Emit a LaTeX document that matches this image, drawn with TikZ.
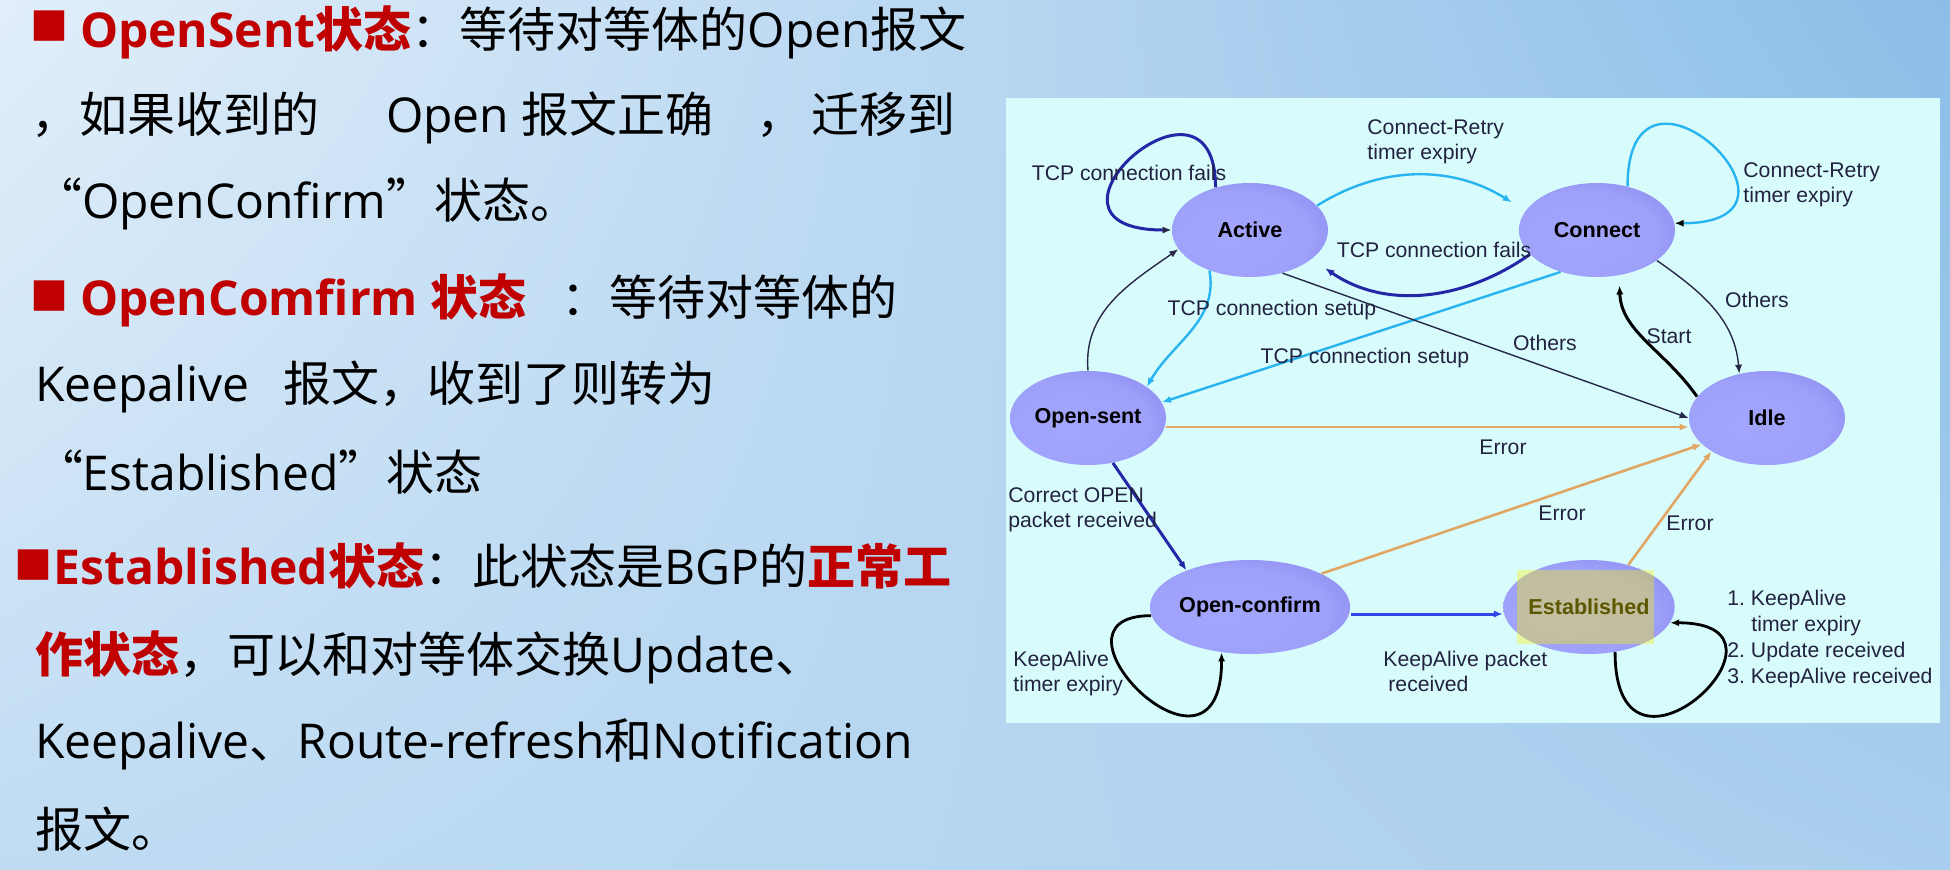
\documentclass[tikz,border=0pt]{standalone}
\usepackage{fontspec}
\setmainfont{Open Sans}
\newfontfamily\zh{Noto Sans CJK SC}
\newfontfamily\arial{Liberation Sans}
\usetikzlibrary{shapes.geometric,arrows.meta,shadings}

\definecolor{bgTL}{RGB}{226,239,250}
\definecolor{bgTR}{RGB}{140,190,232}
\definecolor{bgBL}{RGB}{192,220,243}
\definecolor{bgBR}{RGB}{170,207,238}
\definecolor{bgpred}{RGB}{192,0,0}
\definecolor{panelcol}{RGB}{216,252,252}
\definecolor{lblcol}{RGB}{34,34,64}
\definecolor{dkblue}{RGB}{36,38,168}
\definecolor{ltblue}{RGB}{40,180,240}
\definecolor{navyline}{RGB}{40,40,72}
\definecolor{orangeline}{RGB}{226,166,100}
\definecolor{midblue}{RGB}{50,70,230}

% soft 3D look of the state bubbles: lighter lower-left, darker upper-right rim
\pgfdeclareradialshading{stateball}{\pgfpoint{-8bp}{-6bp}}{%
  rgb(0bp)=(0.64,0.65,0.99);
  rgb(24bp)=(0.62,0.63,0.98);
  rgb(34bp)=(0.56,0.55,0.94);
  rgb(44bp)=(0.46,0.42,0.85);
  rgb(60bp)=(0.38,0.33,0.76)}

\tikzset{
  bodytxt/.style={anchor=base west, inner sep=0pt, outer sep=0pt,
    font=\fontsize{24}{28}\selectfont},
  bullet/.style={anchor=center, inner sep=0pt, outer sep=0pt, text=bgpred,
    font=\zh\fontsize{19}{20}\selectfont},
  stnode/.style={ellipse, minimum width=78pt, minimum height=47pt,
    inner sep=0pt, shade, shading=stateball,
    font=\arial\bfseries\fontsize{10.8}{13}\selectfont, text=black},
  lbl/.style={font=\arial\fontsize{10.6}{12.5}\selectfont, text=lblcol,
    inner sep=0pt, align=left},
  tip/.style={-{Latex[length=4.5pt,width=3.6pt]}},
}

\begin{document}
\begin{tikzpicture}[x=0.5pt,y=-0.5pt]
\useasboundingbox (0,0) rectangle (1950,869);
\shade[upper left=bgTL,upper right=bgTR,lower left=bgBL,lower right=bgBR]
  (0,0) rectangle (1950,869);

% ---------------- explanatory text ----------------
\node[bullet] (b1) at (50,26.5) {■};
\node[bodytxt] (t1) at (80,47) {{\bfseries\color{bgpred}OpenSent{\zh 状态}}{\zh ：等待对等体的}Open{\zh 报文}};
\node[bodytxt] (t2a) at (32,132) {\zh ，如果收到的};
\node[bodytxt] (t2b) at (386,132) {Open {\zh 报文正确}};
\node[bodytxt] (t2c) at (756,132) {\zh ，};
\node[bodytxt] (t2d) at (811,132) {\zh 迁移到};
\node[bodytxt] (t3) at (34,218) {{\zh “}OpenConfirm{\zh ”状态。}};
\node[bullet] (b2) at (50,296.5) {■};
\node[bodytxt] (t4a) at (80,315) {\bfseries\color{bgpred}OpenComfirm {\zh 状态}};
\node[bodytxt] (t4b) at (561,315) {\zh ：等待对等体的};
\node[bodytxt] (t5a) at (35,401) {Keepalive};
\node[bodytxt] (t5b) at (283,401) {\zh 报文，收到了则转为};
\node[bodytxt] (t6) at (35,490) {{\zh “}Established{\zh ”状态}};
\node[bullet] (b3) at (33.5,565.5) {■};
\node[bodytxt] (t7) at (54,584) {{\bfseries\color{bgpred}Established{\zh 状态}}{\zh ：此状态是}BGP{\zh 的}{\bfseries\color{bgpred}\zh 正常工}};
\node[bodytxt] (t8) at (35,672) {{\bfseries\color{bgpred}\zh 作状态}{\zh ，可以和对等体交换}Update{\zh 、}};
\node[bodytxt] (t9) at (35,758) {Keepalive{\zh 、}Route-refresh{\zh 和}Notification};
\node[bodytxt] (t10) at (35,847) {\zh 报文。};

% ---------------- BGP finite state machine ----------------
\fill[panelcol] (1006,98) rectangle (1940,723);

\node[stnode] (act)  at (1250,230) {Active};
\node[stnode] (con)  at (1597,230) {Connect};
\node[stnode] (os)   at (1088,418) {Open-sent};
\node[stnode] (idle) at (1767,418) {Idle};
\node[stnode] (oc)   at (1250,607) {Open-confirm};
\node[stnode] (est)  at (1589,607) {Established};
% highlight box over the Established state
\fill[yellow,opacity=0.36] (1517,570) rectangle (1654,644);

% self loops
\draw[dkblue,line width=1.5pt,-{Latex[length=4.5pt,width=3.6pt,color=navyline]}]
  (act.129) .. controls +(0,-140) and +(-160,0) .. (act.180);
\draw[ltblue,line width=1.2pt,-{Latex[length=4.5pt,width=3.6pt,color=black]}]
  (con.55) .. controls +(0,-160) and +(160,0) .. (con.5);
\draw[black,line width=1.4pt,tip]
  (oc.185) .. controls +(-120,0) and +(0,155) .. (oc.238);
\draw[black,line width=1.4pt,tip]
  (est.300) .. controls +(0,160) and +(145,0) .. (est.-11);

% Active <-> Connect
\draw[ltblue,line width=1.2pt,tip,shorten >=8pt]
  (act.20) to[out=32,in=148] (con.165);
\draw[dkblue,line width=1.5pt,tip,shorten >=8pt]
  (con.200) to[out=-145,in=-35] (act.-25);

% towards Open-sent / Active
\draw[navyline,line width=0.7pt,tip] (os.90) to[out=95,in=215] (act.195);
\draw[ltblue,line width=1.2pt,tip] (act.225) to[out=-80,in=60] (os.28);
\draw[ltblue,line width=1.2pt,tip] (con.229) -- (os.12);

% towards Idle / Connect
\draw[navyline,line width=0.7pt,tip] (act.-53) -- (idle.180);
\draw[navyline,line width=0.7pt,tip] (con.-27) to[out=-35,in=95] (idle.122);
\draw[black,line width=1.5pt,tip,shorten >=5pt] (idle.163) to[out=125,in=-88] (con.-64);

% error transitions
\draw[orangeline,line width=1.3pt,tip]
  ([yshift=-4.5pt]os.east) -- ([yshift=-4.5pt]idle.west);
\draw[orangeline,line width=1.3pt,tip] (oc.25) -- (idle.202);
\draw[orangeline,line width=1.3pt,tip] (est.47) -- (idle.211);

% forward path
\draw[dkblue,line width=1.5pt,tip] (os.-61) -- (oc.150);
\draw[midblue,line width=1.5pt,tip]
  ([yshift=-3.5pt]oc.east) -- ([yshift=-3.5pt]est.west);

% transition labels
\node[lbl] (l1)  at (1129,173) {TCP connection fails};
\node[lbl,anchor=west] (l2) at (1367,142) {Connect-Retry\\timer expiry};
\node[lbl] (l3)  at (1434,250) {TCP connection fails};
\node[lbl,anchor=west] (l4) at (1743,185) {Connect-Retry\\timer expiry};
\node[lbl] (l5)  at (1272,310) {TCP connection setup};
\node[lbl] (l6)  at (1365,358) {TCP connection setup};
\node[lbl] (l7)  at (1545,343) {Others};
\node[lbl] (l8)  at (1757,300) {Others};
\node[lbl] (l9)  at (1669,336) {Start};
\node[lbl] (l10) at (1503,447) {Error};
\node[lbl,anchor=west] (l11) at (1008,510) {Correct OPEN\\packet received};
\node[lbl] (l12) at (1562,513) {Error};
\node[lbl] (l13) at (1690,523) {Error};
\node[lbl,anchor=west] (l14) at (1383,671) {KeepAlive packet\\\hspace{2.5pt}received};
\node[lbl,anchor=west] (l15) at (1013,674) {KeepAlive\\timer expiry};
\node[lbl,anchor=west,font=\arial\fontsize{10.6}{13}\selectfont] (l16) at (1727,639)
  {1.\ KeepAlive\\\hspace{12pt}timer expiry\\2.\ Update received\\3.\ KeepAlive received};
\end{tikzpicture}
\end{document}
